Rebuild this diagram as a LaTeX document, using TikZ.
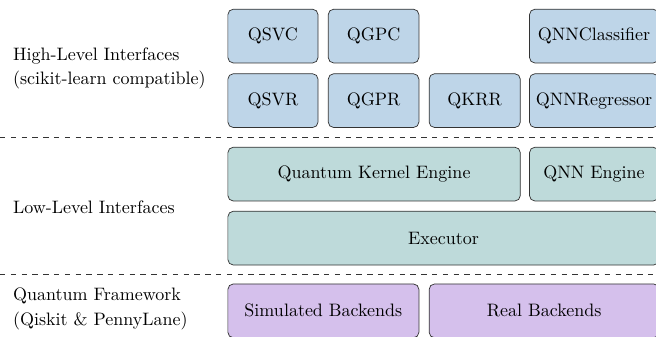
\documentclass[tikz,border=0pt]{standalone}
\usepackage{tikz}

\definecolor{highblue}{RGB}{190,213,232}
\definecolor{lowteal}{RGB}{190,218,218}
\definecolor{backpurple}{RGB}{213,192,236}

\begin{document}
\begin{tikzpicture}[%
        box/.style = {%
            draw = black!80,
            rounded corners = 3pt,
            minimum height = 1.05cm,
            inner sep = 0pt
        },
        highbox/.style = {box, fill = highblue},
        lowbox/.style = {box, fill = lowteal},
        backbox/.style = {box, fill = backpurple},
        layer/.style = {%
            anchor = west,
            align = left
        }
    ]

        % Fix the page and cut off what runs past it.
        \clip (0.0, 0.0) rectangle (12.81, 6.58);

        % Names of the three layers.
        \node[layer] (highlabel) at (0.13, 5.24)
            {High-Level Interfaces\\[1.5pt](scikit-learn compatible)};
        \node[layer] (lowlabel) at (0.13, 2.54) {Low-Level Interfaces};
        \node[layer] (framelabel) at (0.13, 0.55)
            {Quantum Framework\\[1.5pt](Qiskit \& PennyLane)};

        % High-level estimators, two rows.
        \node[highbox, minimum width = 1.76cm] (qsvc) at (5.33, 5.875) {QSVC};
        \node[highbox, minimum width = 1.77cm] (qgpc) at (7.295, 5.875) {QGPC};
        \node[highbox, minimum width = 2.52cm] (qnnc) at (11.60, 5.875) {QNNClassifier};

        \node[highbox, minimum width = 1.76cm] (qsvr) at (5.33, 4.615) {QSVR};
        \node[highbox, minimum width = 1.77cm] (qgpr) at (7.295, 4.615) {QGPR};
        \node[highbox, minimum width = 1.78cm] (qkrr) at (9.27, 4.615) {QKRR};
        \node[highbox, minimum width = 2.52cm] (qnnr) at (11.60, 4.615) {QNNRegressor};

        % Separator between high and low level.
        \draw[dashed, black!80] (0.0, 3.9) to (12.81, 3.9);

        % Low-level engines and the executor.
        \node[lowbox, minimum width = 5.71cm] (kernel) at (7.305, 3.18) {Quantum Kernel Engine};
        \node[lowbox, minimum width = 2.52cm] (qnneng) at (11.60, 3.18) {QNN Engine};
        \node[lowbox, minimum width = 8.42cm] (executor) at (8.66, 1.93) {Executor};

        % Separator between low level and framework.
        \draw[dashed, black!80] (0.0, 1.23) to (12.81, 1.23);

        % Backends at the bottom.
        \node[backbox, minimum width = 3.73cm] (simback) at (6.315, 0.51) {Simulated Backends};
        \node[backbox, minimum width = 4.49cm] (realback) at (10.625, 0.51) {Real Backends};
    \end{tikzpicture}
\end{document}
